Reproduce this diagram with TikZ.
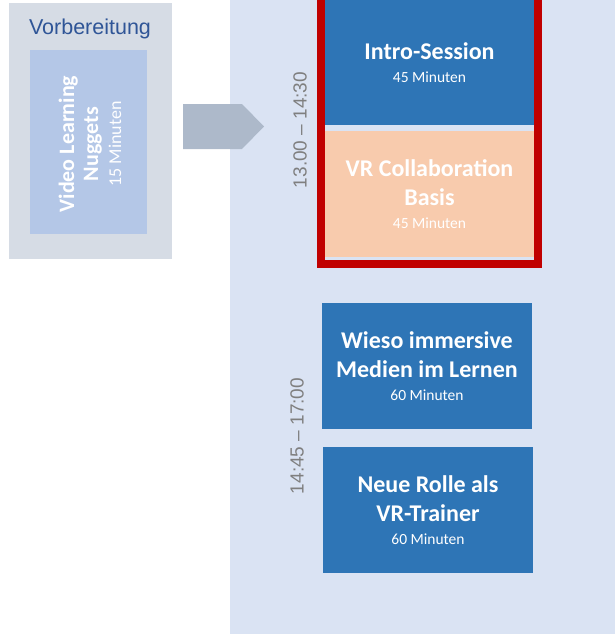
\documentclass[tikz,border=0pt]{standalone}
\usepackage{fontspec}
\setmainfont{Carlito}
\newfontfamily\arialfont{Liberation Sans}
\usetikzlibrary{positioning}

\definecolor{panelgray}{HTML}{D6DCE5}
\definecolor{nuggetblue}{HTML}{B4C7E7}
\definecolor{vorbblue}{HTML}{2F5597}
\definecolor{arrowgray}{HTML}{ADB9CA}
\definecolor{dayblue}{HTML}{DAE3F3}
\definecolor{sessblue}{HTML}{2E75B6}
\definecolor{peach}{HTML}{F8CBAD}
\definecolor{framered}{HTML}{C00000}
\definecolor{timegray}{HTML}{7F7F7F}

\tikzset{
  session/.style={fill=sessblue, text=white, align=center, inner sep=0pt,
    font=\bfseries\fontsize{24}{29}\selectfont},
  timelabel/.style={text=timegray, rotate=90, inner sep=0pt,
    font=\arialfont\fontsize{19}{22}\selectfont},
}
\newcommand{\minuten}[1]{{\mdseries\fontsize{15.5}{19}\selectfont #1 Minuten}}

\begin{document}
\begin{tikzpicture}[x=1pt,y=-1pt]
  \useasboundingbox (0,0) rectangle (615,634);

  % preparation panel
  \fill[panelgray] (9,3) rectangle (172,259);
  \node[text=vorbblue, font=\arialfont\fontsize{21.5}{25}\selectfont, inner sep=0pt]
    (vorb) at (90,29) {Vorbereitung};
  \node[fill=nuggetblue, minimum width=117pt, minimum height=184pt, inner sep=0pt]
    (nuggets) at (88.5,142) {};
  \node[rotate=90, text=white, align=center, inner sep=0pt,
        font=\bfseries\fontsize{22}{24}\selectfont]
    (nugtext) at (90,144)
    {Video Learning\\Nuggets\\[-1pt]{\mdseries\fontsize{18}{22}\selectfont 15 Minuten}};

  % day panel
  \fill[dayblue] (230,0) rectangle (615,634);

  % arrow
  \fill[arrowgray] (183,104) -- (242,104) -- (264,126.5) -- (242,149) -- (183,149) -- cycle;

  % first block
  \node[session, minimum width=209pt, minimum height=125pt]
    (intro) at (429.5,62.5) {Intro-Session\\[-6pt]\minuten{45}};
  \node[session, fill=peach, minimum width=209pt, minimum height=126pt]
    (vrbasis) at (429.5,194) {VR Collaboration\\Basis\\[-6pt]\minuten{45}};
  \draw[framered, line width=8pt] (321,-10) rectangle (538,264);
  \node[timelabel] (time1) at (300,130) {13.00 – 14:30};

  % second block
  \node[session, minimum width=210pt, minimum height=126pt]
    (immersiv) at (427,366) {Wieso immersive\\Medien im Lernen\\[-6pt]\minuten{60}};
  \node[session, minimum width=210pt, minimum height=126pt]
    (trainer) at (428,510) {Neue Rolle als\\VR-Trainer\\[-6pt]\minuten{60}};
  \node[timelabel] (time2) at (297,436) {14:45 – 17:00};

\end{tikzpicture}
\end{document}
